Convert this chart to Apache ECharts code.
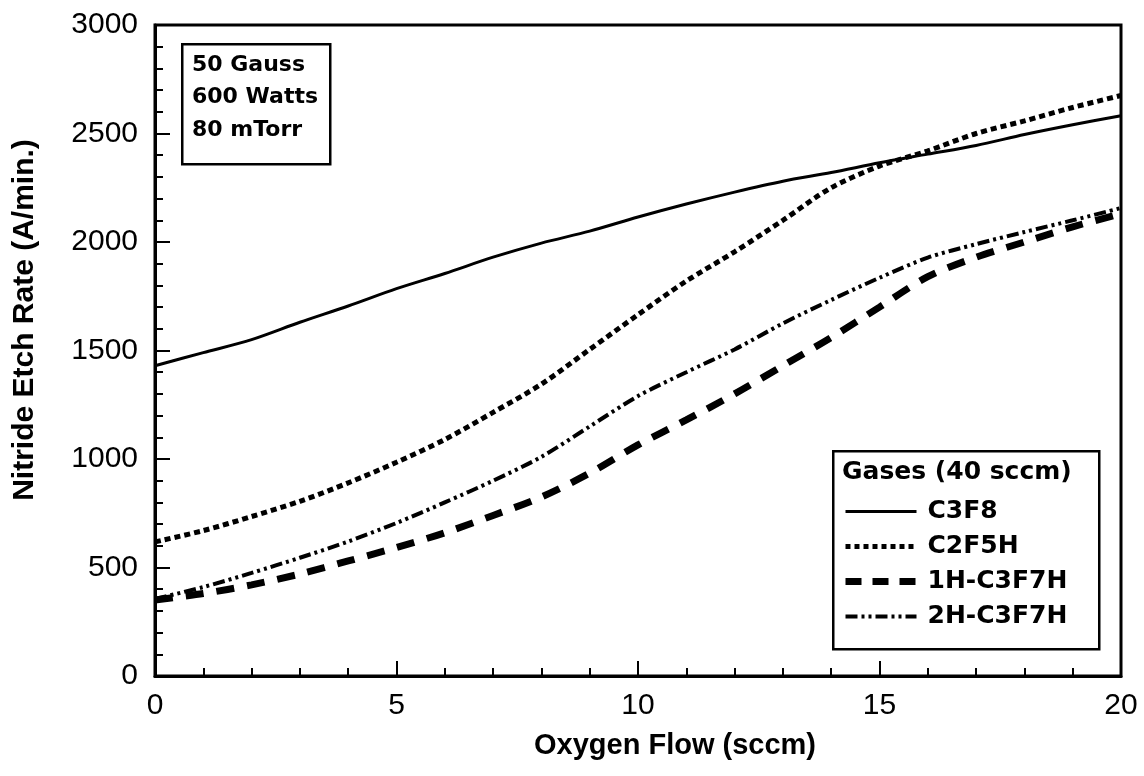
<!DOCTYPE html>
<html>
<head>
<meta charset="utf-8">
<script src="https://cdn.jsdelivr.net/npm/echarts@6/dist/echarts.min.js"></script>
<style>html,body{margin:0;padding:0;background:#fff}#c{width:1144px;height:776px}</style>
</head>
<body>
<div id="c"></div>
<script>
const oxygenFlow = [0,1,2,3,4,5,6,7,8,9,10,11,12,13,14,15,16,17,18,19,20];
const c3f8    = [1430,1490,1550,1630,1705,1785,1855,1930,1995,2050,2115,2175,2230,2280,2320,2365,2405,2445,2495,2540,2582];
const c2f5h   = [618,670,735,805,890,985,1090,1215,1345,1505,1665,1820,1955,2100,2250,2350,2420,2500,2558,2620,2675];
const h1c3f7h = [350,380,420,470,530,592,660,740,825,935,1065,1180,1300,1430,1560,1700,1840,1930,2000,2070,2130];
const h2c3f7h = [355,410,475,545,620,705,800,900,1010,1150,1290,1400,1505,1625,1733,1835,1928,1990,2046,2100,2157];
const seriesNames = ['C3F8','C2F5H','1H-C3F7H','2H-C3F7H'];
const annotation = ['50 Gauss','600 Watts','80 mTorr'];
const legendTitle = 'Gases (40 sccm)';
const xTitle = 'Oxygen Flow (sccm)';
const yTitle = 'Nitride Etch Rate (A/min.)';

const pairs = arr => oxygenFlow.map((x,i)=>[x,arr[i]]);
const FONT = '"Liberation Sans", Arial, sans-serif';
const BFONT = '"DejaVu Sans", sans-serif';
const chart = echarts.init(document.getElementById('c'));
const styles = [
  {type:'solid', width:3},
  {type:[6,4], width:5},
  {type:[18,13], width:7},
  {type:[12,4,3,4,3,4], width:4}
];
const legendStyles = [
  {type:'solid', width:3},
  {type:[5,4], width:5},
  {type:[16,11], width:7},
  {type:[12,4,3,4,3,4], width:4}
];
const datas = [c3f8,c2f5h,h1c3f7h,h2c3f7h];
chart.setOption({
  animation:false,
  backgroundColor:'#fff',
  grid:{left:155,right:23,top:25,bottom:100,show:true,borderColor:'#000',borderWidth:3,backgroundColor:'transparent'},
  xAxis:{type:'value',min:0,max:20,interval:5,
    axisLine:{lineStyle:{color:'#000',width:3}},
    axisTick:{inside:true,length:15,lineStyle:{color:'#000',width:2}},
    minorTick:{show:true,splitNumber:5,length:8,lineStyle:{color:'#000',width:2}},
    splitLine:{show:false},
    axisLabel:{fontFamily:FONT,fontSize:30,color:'#000',margin:15}
  },
  yAxis:{type:'value',min:0,max:3000,interval:500,
    axisLine:{show:true,lineStyle:{color:'#000',width:3}},
    axisTick:{show:true,inside:true,length:15,lineStyle:{color:'#000',width:2}},
    minorTick:{show:true,splitNumber:5,length:8,lineStyle:{color:'#000',width:2}},
    splitLine:{show:false},
    axisLabel:{fontFamily:FONT,fontSize:30,color:'#000',margin:17,formatter:v=>String(v)}
  },
  legend:{
    data:seriesNames.map((n,i)=>({name:n,
      itemStyle:{color:'rgba(0,0,0,0)',borderWidth:0,borderColor:'rgba(0,0,0,0)'},
      lineStyle:{color:'#000',width:legendStyles[i].width,type:legendStyles[i].type,cap:'butt'}})),
    orient:'vertical',left:842,top:499,
    padding:0,itemGap:10,itemWidth:71,itemHeight:26,
    textStyle:{fontFamily:BFONT,fontWeight:'bold',fontSize:25,color:'#000',padding:[0,0,0,6]}
  },
  graphic:[
    {type:'rect',left:181,top:43,shape:{width:148,height:120},style:{fill:'#fff',stroke:'#000',lineWidth:2.5},z:100},
    {type:'text',left:192,top:49,style:{text:annotation.join('\n'),fontFamily:BFONT,fontWeight:'bold',fontSize:22,lineHeight:32.5,fill:'#000'},z:101},
    {type:'rect',left:832,top:450,shape:{width:266,height:198},style:{fill:'#fff',stroke:'#000',lineWidth:2.5},z:-1},
    {type:'text',x:842,y:472,style:{text:legendTitle,fontFamily:BFONT,fontWeight:'bold',fontSize:25,fill:'#000',verticalAlign:'middle'},z:101},
    {type:'text',x:675,y:746,style:{text:xTitle,fontFamily:FONT,fontWeight:'bold',fontSize:29,fill:'#000',align:'center',verticalAlign:'middle'}},
    {type:'text',x:25,y:320,rotation:Math.PI/2,style:{text:yTitle,fontFamily:FONT,fontWeight:'bold',fontSize:30,fill:'#000',align:'center',verticalAlign:'middle'}}
  ],
  series:datas.map((d,i)=>({
    name:seriesNames[i],type:'line',data:pairs(d),smooth:0.3,showSymbol:false,symbol:'none',
    lineStyle:{color:'#000',width:styles[i].width,type:styles[i].type,cap:'butt'},
    itemStyle:{color:'#000'}
  }))
});
</script>
</body>
</html>
